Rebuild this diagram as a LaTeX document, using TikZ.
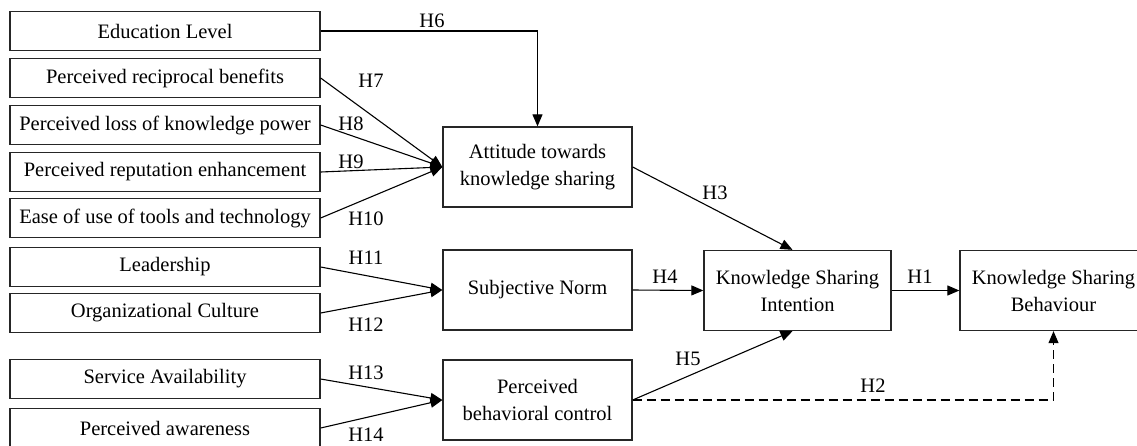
\documentclass[tikz,border=0pt]{standalone}
\usepackage{fontspec}
\setmainfont{Liberation Serif}
\usetikzlibrary{arrows.meta}
\begin{document}
\begin{tikzpicture}[x=1pt,y=-1pt,
  every node/.style={font=\fontsize{20.5}{27}\selectfont},
  box/.style={draw=black!85, line width=1.3pt, align=center, inner sep=0pt},
  lbox/.style={box, minimum width=310pt, minimum height=39pt},
  mbox/.style={box, minimum width=189pt, minimum height=80pt},
  rbox/.style={box, minimum width=187pt, minimum height=80pt},
  hyp/.style={inner sep=0pt},
  conn/.style={line width=1.1pt, -{Triangle[length=12pt,width=10pt]}},
  dconn/.style={conn, dash pattern=on 9pt off 5pt}]
\clip (0,0) rectangle (1137,445);
\fill[white] (0,0) rectangle (1137,445);
% left boxes
\node[lbox] (edu)  at (165,31)  {Education Level};
\node[lbox] (rec)  at (165,78)  {Perceived reciprocal benefits};
\node[lbox] (loss) at (165,125) {Perceived loss of knowledge power};
\node[lbox] (rep)  at (165,172) {Perceived reputation enhancement};
\node[lbox] (ease) at (165,218) {Ease of use of tools and technology};
\node[lbox] (lead) at (165,267) {Leadership};
\node[lbox] (org)  at (165,313) {Organizational Culture};
\node[lbox] (serv) at (165,379) {Service Availability};
\node[lbox] (aware) at (165,428) {Perceived awareness};
% middle boxes
\node[mbox] (att) at (537.5,167) {Attitude towards\\knowledge sharing};
\node[mbox] (sn)  at (537.5,290) {Subjective Norm};
\node[mbox] (pbc) at (537.5,400) {Perceived\\behavioral control};
% right boxes
\node[rbox] (ksi) at (797.5,290.5) {Knowledge Sharing\\Intention};
\node[rbox] (ksb) at (1053.5,290.5) {Knowledge Sharing\\Behaviour};
% connectors
\draw[conn] (edu.east) -| (att.north);
\draw[conn] (rec.east) -- (att.west);
\draw[conn] (loss.east) -- (att.west);
\draw[conn] (rep.east) -- (att.west);
\draw[conn] (ease.east) -- (att.west);
\draw[conn] (lead.east) -- (sn.west);
\draw[conn] (org.east) -- (sn.west);
\draw[conn] (serv.east) -- (pbc.west);
\draw[conn] (aware.east) -- (pbc.west);
\draw[conn] (att.east) -- ([xshift=-5pt]ksi.north);
\draw[conn] (sn.east) -- (ksi.west);
\draw[conn] (pbc.east) -- ([xshift=-5pt]ksi.south);
\draw[conn] (ksi.east) -- (ksb.west);
\draw[dconn] (pbc.east) -| (ksb.south);
% hypothesis labels
\node[hyp] (h6)  at (432,21)  {H6};
\node[hyp] (h7)  at (371,81)  {H7};
\node[hyp] (h8)  at (351,124) {H8};
\node[hyp] (h9)  at (351,162) {H9};
\node[hyp] (h10) at (366,219) {H10};
\node[hyp] (h11) at (366,258) {H11};
\node[hyp] (h12) at (366,325) {H12};
\node[hyp] (h13) at (366,373) {H13};
\node[hyp] (h14) at (366,435) {H14};
\node[hyp] (h3)  at (715,193) {H3};
\node[hyp] (h4)  at (665,277) {H4};
\node[hyp] (h1)  at (920,277) {H1};
\node[hyp] (h5)  at (688,359) {H5};
\node[hyp] (h2)  at (873,386) {H2};
\end{tikzpicture}
\end{document}
